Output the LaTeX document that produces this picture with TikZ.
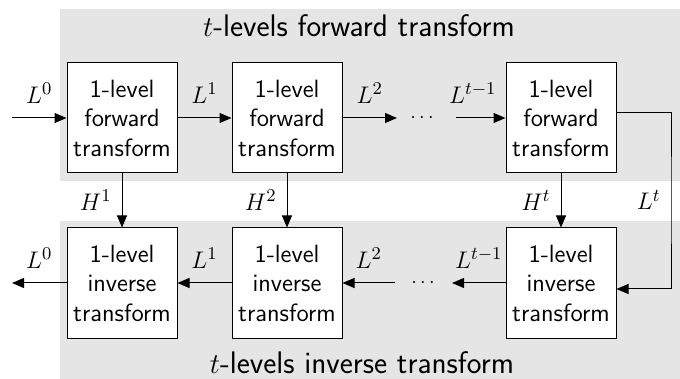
\documentclass[tikz,border=0pt]{standalone}
\usepackage{fontspec}
\usetikzlibrary{arrows.meta}
\begin{document}
\begin{tikzpicture}[x=0.5pt,y=-0.5pt,
  band/.style={fill=black!10,draw=none},
  blockbox/.style={draw=black,line width=0.5pt,fill=white,minimum width=55pt,minimum height=55pt,inner sep=0pt,align=center,font=\sffamily\fontsize{12.5}{14.75}\selectfont},
  arr/.style={line width=0.5pt,-{Triangle[length=6pt,width=5pt]}},
  lab/.style={font=\fontsize{12.5}{15}\selectfont,inner sep=2pt},
  ttl/.style={font=\sffamily\fontsize{15.6}{18}\selectfont,anchor=base}]
\useasboundingbox (0,0) rectangle (680,379);
\fill[band] (60,9) rectangle (680,181);
\fill[band] (60,221) rectangle (680,379);
\node[ttl] (tf) at (359,37) {$t$-levels forward transform};
\node[ttl] (ti) at (362,373) {$t$-levels inverse transform};
% forward
\node[blockbox] (f1) at (122,118) {1-level\\forward\\transform};
\node[blockbox] (f2) at (287,118) {1-level\\forward\\transform};
\node[blockbox] (f3) at (561,118) {1-level\\forward\\transform};
% inverse
\node[blockbox] (i1) at (122,283) {1-level\\inverse\\transform};
\node[blockbox] (i2) at (287,283) {1-level\\inverse\\transform};
\node[blockbox] (i3) at (561,283) {1-level\\inverse\\transform};
% dots
\node[font=\normalsize,inner sep=0pt] (df) at (422,118) {$\cdots$};
\node[font=\normalsize,inner sep=0pt] (di) at (423,283) {$\cdots$};
\coordinate (inF) at (12,118);
\coordinate (aF) at (397,118);
\coordinate (bF) at (456,118);
\coordinate (outI) at (12,283);
\coordinate (aI) at (452,283);
\coordinate (bI) at (395,283);
\coordinate (cR) at (671,200);
% forward arrows
\draw[arr] (inF) -- node[lab,above=5pt] {$L^0$} (f1);
\draw[arr] (f1) -- node[lab,above=5pt] {$L^1$} (f2);
\draw[arr] (f2) -- node[lab,above=5pt] {$L^2$} (aF);
\draw[arr] (bF) -- node[lab,above=5pt,xshift=-4pt] {$L^{t-1}$} (f3);
% inverse arrows
\draw[arr] (i1) -- node[lab,above=5pt] {$L^0$} (outI);
\draw[arr] (i2) -- node[lab,above=5pt] {$L^1$} (i1);
\draw[arr] (bI) -- node[lab,above=5pt] {$L^2$} (i2);
\draw[arr] (i3) -- node[lab,above=5pt] {$L^{t-1}$} (aI);
% vertical
\draw[arr] (f1) -- node[lab,left=3pt] {$H^1$} (i1);
\draw[arr] (f2) -- node[lab,left=3pt] {$H^2$} (i2);
\draw[arr] (f3) -- node[lab,left=3pt] {$H^t$} (i3);
% loop
\draw[arr] ([yshift=2.5pt]f3.east) -| (cR) node[lab,left=3pt] {$L^t$} |- ([yshift=-3pt]i3.east);
\end{tikzpicture}
\end{document}
